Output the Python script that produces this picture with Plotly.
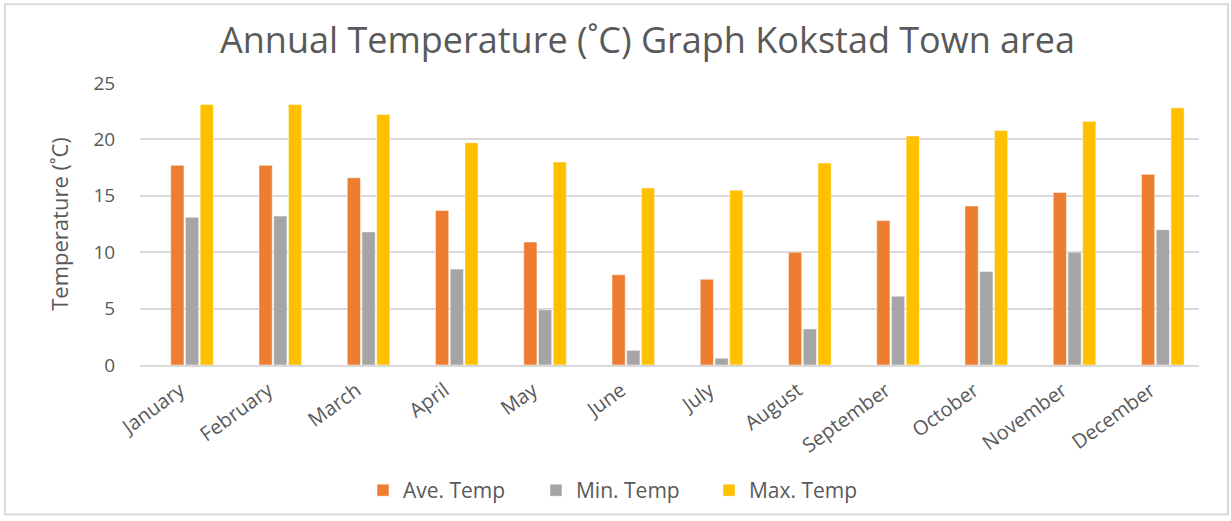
import plotly.graph_objects as go

months = ["January", "February", "March", "April", "May", "June", "July",
          "August", "September", "October", "November", "December"]
ave_temp = [17.7, 17.7, 16.6, 13.7, 10.9, 8.0, 7.6, 10.0, 12.8, 14.1, 15.3, 16.9]
min_temp = [13.1, 13.2, 11.8, 8.5, 4.9, 1.3, 0.6, 3.2, 6.1, 8.3, 10.0, 12.0]
max_temp = [23.1, 23.1, 22.2, 19.7, 18.0, 15.7, 15.5, 17.9, 20.3, 20.8, 21.6, 22.8]
y_ticks = [0, 5, 10, 15, 20, 25]

txt = "#595959"
fig = go.Figure()
for name, vals, col in [("Ave. Temp", ave_temp, "#ED7D31"),
                        ("Min. Temp", min_temp, "#A5A5A5"),
                        ("Max. Temp", max_temp, "#FFC000")]:
    fig.add_trace(go.Bar(x=months, y=vals, name=name,
                         marker=dict(color=col, line=dict(color="white", width=0.5))))

fig.update_layout(
    width=1231, height=521,
    paper_bgcolor="white", plot_bgcolor="white",
    margin=dict(l=140, r=32, t=83, b=155),
    barmode="group", bargap=0.5, bargroupgap=0.1,
    title=dict(text="Annual Temperature (˚C) Graph Kokstad Town area",
               x=0.526, xanchor="center", y=0.923, yanchor="middle",
               font=dict(family="Open Sans", size=36, color=txt)),
    font=dict(family="Open Sans", color=txt),
    legend=dict(orientation="h", x=0.4556, xanchor="center", y=-0.44, yanchor="middle",
                font=dict(size=21, color=txt), itemwidth=30, traceorder="normal",
                entrywidth=128, entrywidthmode="pixels"),
    xaxis=dict(tickangle=-36, tickfont=dict(size=20, color=txt), showline=True,
               linecolor="#D9D9D9", linewidth=2, ticks="", range=[-0.59, 11.41],
               ticklabelshift=-12, ticklabelstandoff=4),
    yaxis=dict(range=[0, 25], tickvals=y_ticks, tickfont=dict(size=19, color=txt),
               gridcolor="#D9D9D9", gridwidth=2, zeroline=False, ticks="outside",
               tickcolor="white", ticklen=20,
               title=dict(text="Temperature (˚C)",
                          font=dict(family="Liberation Sans Narrow, Open Sans", size=22, color=txt),
                          standoff=18)),
    shapes=[dict(type="rect", xref="paper", yref="paper",
                 x0=(5 - 140) / 1059, x1=(1228 - 140) / 1059,
                 y0=-(516 - 366) / 283, y1=1 + (83 - 4) / 283,
                 line=dict(color="#D9D9D9", width=2), fillcolor="rgba(0,0,0,0)", layer="below")],
)
fig.write_html("out.html", config={"displayModeBar": False},
               post_script="document.body.style.margin='0px';")
